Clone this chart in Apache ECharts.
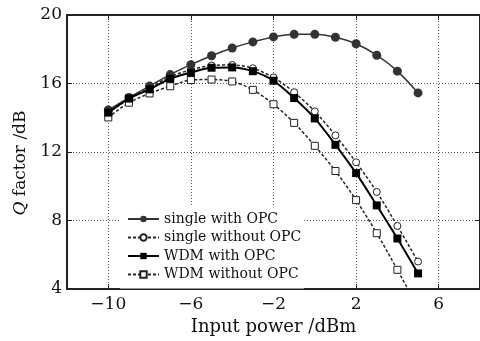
<!DOCTYPE html>
<html>
<head>
<meta charset="utf-8">
<script src="https://cdn.jsdelivr.net/npm/echarts@6/dist/echarts.min.js"></script>
<style>
  html, body { margin: 0; padding: 0; background: #fff; }
  #main { width: 480px; height: 341px; }
</style>
</head>
<body>
<div id="main"></div>
<script>
// 输入功率 (dBm)
var inputPower = [-10, -9, -8, -7, -6, -5, -4, -3, -2, -1, 0, 1, 2, 3, 4, 5];

// Q 因子 (dB)
var singleWithOpc = [14.45, 15.18, 15.85, 16.52, 17.1, 17.62, 18.07, 18.43, 18.72, 18.87, 18.87, 18.7, 18.32, 17.65, 16.72, 15.45];
var singleWithoutOpc = [14.3, 15.1, 15.75, 16.4, 16.8, 17.05, 17.08, 16.89, 16.35, 15.49, 14.37, 12.97, 11.4, 9.67, 7.68, 5.6];
var wdmWithOpc = [14.3, 15.12, 15.66, 16.28, 16.64, 16.92, 16.94, 16.72, 16.16, 15.15, 13.96, 12.42, 10.77, 8.88, 6.95, 4.91];
var wdmWithoutOpc = [14.02, 14.88, 15.42, 15.84, 16.2, 16.23, 16.12, 15.63, 14.79, 13.7, 12.36, 10.89, 9.19, 7.26, 5.12, 2.9];

// 刻度
var xTicks = [-10, -6, -2, 2, 6];

var seriesNames = ['single with OPC', 'single without OPC', 'WDM with OPC', 'WDM without OPC'];

function pairs(ys) {
    return inputPower.map(function (x, i) { return [x, ys[i]]; });
}

var fontFamily = '"DejaVu Serif", "Liberation Serif", serif';

function fillData() {
    var myChart = echarts.init(document.getElementById('main'));

    var gridLine = { show: true, lineStyle: { color: '#555', width: 1, type: [1, 2] } };
    var frameLine = { show: true, onZero: false, lineStyle: { color: '#222', width: 2 } };

    var option = {
        animation: false,
        backgroundColor: '#fff',
        textStyle: { fontFamily: fontFamily },
        grid: { left: 67, top: 15, right: -3, bottom: 47 },
        legend: {
            orient: 'vertical',
            left: 120,
            top: 205,
            data: seriesNames,
            itemWidth: 31,
            itemHeight: 8,
            itemGap: 2.5,
            padding: [6, 3, 6, 7],
            backgroundColor: '#fff',
            textStyle: { fontFamily: fontFamily, fontSize: 14, color: '#111', lineHeight: 16 }
        },
        xAxis: [
            {
                type: 'value',
                min: -12,
                max: 8,
                interval: 2,
                name: 'Input power /dBm',
                nameLocation: 'middle',
                nameGap: 29,
                nameTextStyle: { fontFamily: fontFamily, fontSize: 18, color: '#111' },
                axisLine: frameLine,
                axisTick: { show: true, inside: true, length: 5, customValues: xTicks, lineStyle: { color: '#222' } },
                axisLabel: { customValues: xTicks, fontFamily: fontFamily, fontSize: 17, color: '#111', margin: 7,
                    formatter: function (v) { return v < 0 ? '\u2212' + Math.abs(v) : String(v); } },
                splitLine: gridLine
            },
            {
                type: 'value',
                position: 'top',
                min: -12,
                max: 8,
                interval: 2,
                axisLine: frameLine,
                axisTick: { show: true, inside: true, length: 5, customValues: xTicks, lineStyle: { color: '#222' } },
                axisLabel: { show: false },
                splitLine: { show: false }
            }
        ],
        yAxis: [
            {
                type: 'value',
                min: 4,
                max: 20,
                interval: 4,
                name: '{q|Q} factor /dB',
                nameLocation: 'middle',
                nameGap: 30,
                nameTextStyle: {
                    fontFamily: fontFamily, fontSize: 17, color: '#111',
                    padding: [0, 22, 0, 0],
                    rich: { q: { fontFamily: fontFamily, fontSize: 17, fontStyle: 'italic', color: '#111' } }
                },
                axisLine: frameLine,
                axisTick: { show: true, inside: true, length: 5, lineStyle: { color: '#222' } },
                axisLabel: { fontFamily: fontFamily, fontSize: 17, color: '#111', margin: 5 },
                splitLine: gridLine
            },
            {
                type: 'value',
                position: 'right',
                min: 4,
                max: 20,
                interval: 4,
                axisLine: frameLine,
                axisTick: { show: true, inside: true, length: 5, lineStyle: { color: '#222' } },
                axisLabel: { show: false },
                splitLine: { show: false }
            }
        ],
        series: [
            {
                name: seriesNames[0],
                type: 'line',
                data: pairs(singleWithOpc),
                smooth: 0.3,
                symbol: 'circle',
                symbolSize: 9,
                itemStyle: { color: '#333' },
                lineStyle: { color: '#333', width: 1.5 },
                z: 4
            },
            {
                name: seriesNames[1],
                type: 'line',
                data: pairs(singleWithoutOpc),
                smooth: 0.3,
                symbol: 'circle',
                symbolSize: 7,
                itemStyle: { color: '#fff', borderColor: '#222', borderWidth: 1 },
                lineStyle: { color: '#222', width: 1.5, type: [3, 2] },
                z: 3
            },
            {
                name: seriesNames[2],
                type: 'line',
                data: pairs(wdmWithOpc),
                smooth: 0.3,
                symbol: 'rect',
                symbolSize: 8,
                itemStyle: { color: '#000' },
                lineStyle: { color: '#000', width: 2 },
                z: 5
            },
            {
                name: seriesNames[3],
                type: 'line',
                data: pairs(wdmWithoutOpc),
                smooth: 0.3,
                symbol: 'rect',
                symbolSize: 7,
                itemStyle: { color: '#fff', borderColor: '#222', borderWidth: 1 },
                lineStyle: { color: '#222', width: 1.5, type: [3, 2] },
                z: 3
            }
        ]
    };

    myChart.setOption(option);
}

window.addEventListener("load", function () { fillData(); }, false);
</script>
</body>
</html>
